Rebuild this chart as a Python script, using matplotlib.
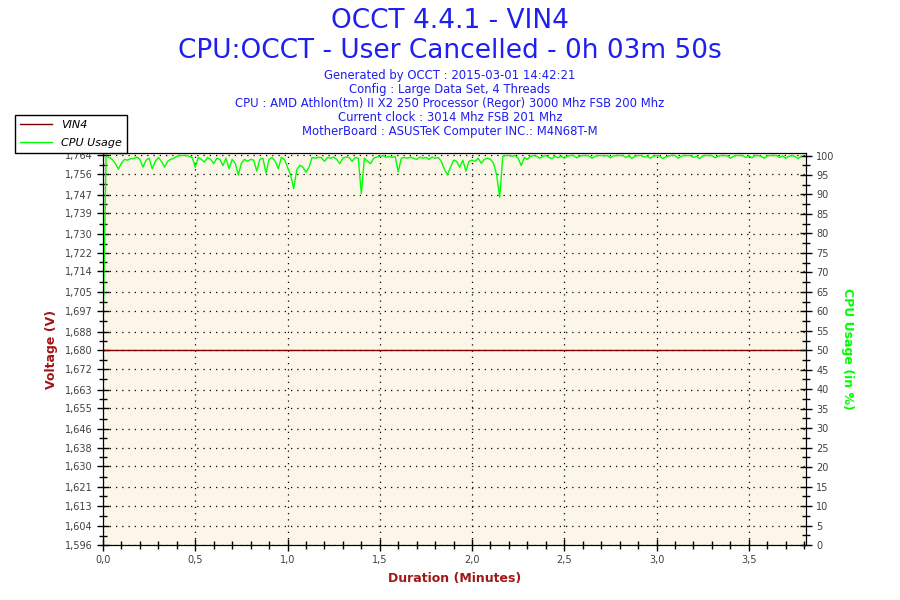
import numpy as np
import matplotlib.pyplot as plt
from matplotlib.ticker import MultipleLocator, FixedLocator

# %% data
# CPU usage in %, one sample per second
cpu_usage = [
    55, 99.8, 99.5, 99, 98, 96.5, 98, 99, 98.8, 99.2,
    99.2, 99.6, 99, 97, 98.8, 99.3, 96.6, 98.5, 99.5, 98.5,
    97, 98.5, 99, 99.3, 99.8, 100, 100, 100, 99.8, 99.5,
    97, 99.5, 99, 98.3, 99.5, 99, 97.9, 99.3, 99, 97.4,
    99.3, 96.6, 99, 98, 95, 98, 99, 98.5, 99, 98.8,
    96, 99, 99.3, 95.5, 99, 99.5, 98.5, 96.6, 99.5, 99,
    97, 95, 91.5, 96.3, 97.5, 97, 95.7, 97, 99.5, 99.3,
    99.5, 99.5, 98.5, 99.5, 99.3, 99.6, 99, 97.9, 99.3, 99.6,
    99.5, 98.5, 99.5, 99.3, 90.2, 99.3, 98.5, 97.9, 99.3, 99.6,
    99.8, 100, 99.5, 99.8, 99.5, 99.8, 95.8, 99.3, 99.5, 99.3,
    99.6, 99.3, 99, 99.6, 99.3, 99.5, 99, 99.6, 99.3, 99.5,
    98.5, 96.5, 95, 97, 98.8, 98.5, 97, 98.8, 96, 98.5,
    98.8, 98.5, 99.3, 98, 99, 99.3, 99, 98, 95, 89.3,
    99.8, 100, 100, 99.8, 100, 99.3, 97.4, 99.5, 99, 99.8,
    100, 99.8, 99.3, 99.8, 100, 99.5, 99.2, 99.8, 99.4, 99.9,
    99.3, 99.8, 100, 100, 99.4, 99.8, 100, 100, 99.9, 99.3,
    99.8, 100, 100, 99.9, 100, 99.4, 99.9, 100, 100, 100,
    99.5, 99.9, 99.2, 99.8, 100, 100, 99.6, 99.8, 99.3, 99.8,
    100, 99.9, 99.2, 99.6, 99.9, 100, 100, 99.3, 99.8, 100,
    100, 100, 99.5, 99.8, 99.2, 99.9, 100, 100, 100, 99.4,
    99.8, 100, 100, 99.9, 99.3, 99.8, 100, 100, 100, 99.5,
    99.9, 99.4, 100, 100, 99.8, 99.3, 99.9, 100, 100, 100,
    99.5, 99.9, 99.3, 99.8, 100, 99.8, 99.2, 99.8,
]
cpu_minutes = np.arange(len(cpu_usage)) / 60.0  # 1 s sample clock

# VIN4 stays flat for the whole run
vin4_minutes = [0.0, 3.81]
vin4_volts = [1.680, 1.680]

volt_ticks = [1.596, 1.604, 1.613, 1.621, 1.630, 1.638, 1.646, 1.655, 1.663, 1.672,
              1.680, 1.688, 1.697, 1.705, 1.714, 1.722, 1.730, 1.739, 1.747, 1.756, 1.764]
volt_labels = ['%.3f' % v for v in volt_ticks]
volt_labels = [s.replace('.', ',') for s in volt_labels]
cpu_ticks = list(range(0, 101, 5))
time_ticks = [0.0, 0.5, 1.0, 1.5, 2.0, 2.5, 3.0, 3.5]
time_labels = ['0,0', '0,5', '1,0', '1,5', '2,0', '2,5', '3,0', '3,5']

title_lines = ['OCCT 4.4.1 - VIN4', 'CPU:OCCT - User Cancelled - 0h 03m 50s']
info_lines = ['Generated by OCCT : 2015-03-01 14:42:21',
              'Config : Large Data Set, 4 Threads',
              'CPU : AMD Athlon(tm) II X2 250 Processor (Regor) 3000 Mhz FSB 200 Mhz',
              'Current clock : 3014 Mhz FSB 201 Mhz',
              'MotherBoard : ASUSTeK Computer INC.: M4N68T-M']

# %% plot
blue = '#1f1fef'
darkred = '#a01818'
green = '#00ff00'
tickgray = '#404040'

# frame top sits a couple of pixels above the 100 % level, like OCCT draws it
top_px, full_px, zero_px = 153, 155.5, 545
headroom = (zero_px - top_px) / (zero_px - full_px)

fig = plt.figure(figsize=(9, 6), dpi=100)
ax = fig.add_axes([103/900, 1-zero_px/600, (806-103)/900, (zero_px-top_px)/600])
ax.set_facecolor('#fcf6e8')

l1, = ax.plot(vin4_minutes, vin4_volts, color='#800000', lw=1, label='VIN4')
ax.set_xlim(0, 3.81)
ax.set_ylim(volt_ticks[0], volt_ticks[0] + (volt_ticks[-1] - volt_ticks[0]) * headroom)
ax.yaxis.set_major_locator(FixedLocator(volt_ticks))
ax.set_yticklabels(volt_labels)
ax.set_xticks(time_ticks)
ax.set_xticklabels(time_labels)
ax.xaxis.set_minor_locator(MultipleLocator(0.1))
ax.yaxis.set_minor_locator(FixedLocator([(a + b) / 2 for a, b in zip(volt_ticks[:-1], volt_ticks[1:])]))
ax.grid(True, which='major', color='black', linestyle=(0, (1, 4)), lw=0.9)
ax.tick_params(which='major', direction='inout', length=9, width=1, labelsize=7, labelcolor=tickgray, pad=3)
ax.tick_params(which='minor', direction='inout', length=6, width=1)

ax2 = ax.twinx()
l2, = ax2.plot(cpu_minutes, cpu_usage, color=green, lw=1, label='CPU Usage')
ax2.set_ylim(0, 100 * headroom)
ax2.set_yticks(cpu_ticks)
ax2.yaxis.set_minor_locator(FixedLocator([2.5 + 5 * k for k in range(20)]))
ax2.tick_params(which='major', direction='inout', length=9, width=1, labelsize=7, labelcolor=tickgray, pad=3)
ax2.tick_params(which='minor', direction='inout', length=6, width=1)

for spine in list(ax.spines.values()) + list(ax2.spines.values()):
    spine.set_color('black')

ax.set_xlabel('Duration (Minutes)', color=darkred, fontsize=9, fontweight='bold', labelpad=5)
ax.set_ylabel('Voltage (V)', color=darkred, fontsize=9, fontweight='bold', labelpad=5)
ax2.set_ylabel('CPU Usage (in %)', color=green, fontsize=9, fontweight='bold', rotation=-90, labelpad=14)

fig.text(0.5, 1-21/600, title_lines[0], ha='center', va='center', color=blue, fontsize=19)
fig.text(0.5, 1-51/600, title_lines[1], ha='center', va='center', color=blue, fontsize=19)
for i, line in enumerate(info_lines):
    fig.text(0.5, 1-(76+13.8*i)/600, line, ha='center', va='center', color=blue, fontsize=8.4)

leg = fig.legend(handles=[l1, l2], loc='upper left', bbox_to_anchor=(15/900, 1-115/600),
                 fancybox=False, framealpha=1, edgecolor='black',
                 prop={'style': 'italic', 'size': 8}, borderpad=0.45, labelspacing=0.75,
                 handlelength=2.9, handletextpad=0.8, borderaxespad=0)
leg.get_frame().set_linewidth(1)

fig.savefig('out.png', dpi=100)
